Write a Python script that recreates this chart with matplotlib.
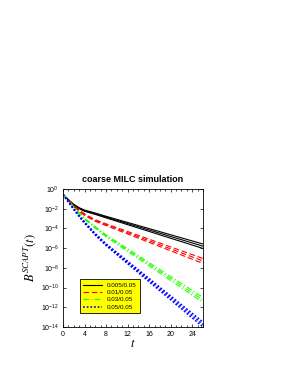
import matplotlib as mpl
import matplotlib.pyplot as plt
import numpy as np

mpl.rcParams['mathtext.fontset'] = 'stix'
mpl.rcParams['font.family'] = 'Liberation Sans'

# sample times (decay is curved early, straight later)
t = [0, 1, 2, 3, 4, 6, 8, 26]

# log10 B(t), three runs per ratio
black = [[-0.55, -1.08, -1.56, -1.90, -2.14, -2.44, -2.77, -5.58],
         [-0.55, -1.10, -1.60, -1.95, -2.20, -2.51, -2.85, -5.80],
         [-0.55, -1.12, -1.64, -2.00, -2.26, -2.58, -2.93, -6.03]]
red = [[-0.55, -1.13, -1.71, -2.14, -2.52, -3.12, -3.53, -7.05],
       [-0.55, -1.15, -1.75, -2.20, -2.60, -3.20, -3.62, -7.30],
       [-0.55, -1.17, -1.79, -2.26, -2.68, -3.28, -3.71, -7.55]]
green = [[-0.55, -1.18, -1.81, -2.40, -2.93, -3.82, -4.65, -11.00],
         [-0.55, -1.20, -1.85, -2.45, -3.00, -3.90, -4.75, -11.25],
         [-0.55, -1.22, -1.89, -2.50, -3.07, -3.98, -4.85, -11.50]]
blue = [[-0.55, -1.28, -2.01, -2.70, -3.33, -4.52, -5.56, -13.50],
        [-0.55, -1.30, -2.05, -2.75, -3.40, -4.60, -5.65, -13.75],
        [-0.55, -1.32, -2.09, -2.80, -3.47, -4.68, -5.74, -14.00]]

labels = ["0.005/0.05", "0.01/0.05", "0.03/0.05", "0.05/0.05"]
colors = ["black", "red", "#22ff00", "blue"]
styles = ["-", (0, (5, 2.5)), (0, (5, 2, 1, 2)), (0, (1.2, 1.2))]
widths = [0.8, 0.8, 0.8, 1.1]

fig = plt.figure(figsize=(2.95, 3.82), dpi=100)
ax = fig.add_axes([63 / 295, 55 / 382, 140 / 295, 138 / 382])

for group, lab, col, ls, lw in zip([black, red, green, blue], labels, colors, styles, widths):
    for i, row in enumerate(group):
        ax.plot(t, 10 ** np.array(row), color=col, linestyle=ls, linewidth=lw,
                label=lab if i == 0 else None)

ax.set_yscale("log")
ax.set_xlim(0, 26)
ax.set_ylim(1e-14, 1)
ax.set_xticks([0, 4, 8, 12, 16, 20, 24])
ax.set_xticks(np.arange(0, 27, 1), minor=True)
ax.set_yticks([10.0 ** k for k in range(0, -15, -2)])
ax.yaxis.set_minor_locator(mpl.ticker.NullLocator())
ax.tick_params(direction="in", top=True, right=True, labelsize=5, length=2.5, width=0.5, pad=3)
ax.tick_params(which="minor", direction="in", top=True, right=True, length=1.5, width=0.5)
for s in ax.spines.values():
    s.set_linewidth(0.6)

ax.set_title("coarse MILC simulation", fontsize=6.5, fontweight="bold", pad=5)
ax.set_xlabel("$t$", fontsize=9, labelpad=0)
ax.set_ylabel("$B^{SCAPT}(t)$", fontsize=9, labelpad=2)

leg = ax.legend(loc="lower left", bbox_to_anchor=(0.1, 0.08), fontsize=4.5, frameon=True,
                fancybox=False, edgecolor="black", facecolor="yellow", framealpha=1,
                handlelength=3.0, borderpad=0.5, labelspacing=0.3)
leg.get_frame().set_linewidth(0.6)

plt.savefig("out.png", dpi=100)
plt.close("all")
